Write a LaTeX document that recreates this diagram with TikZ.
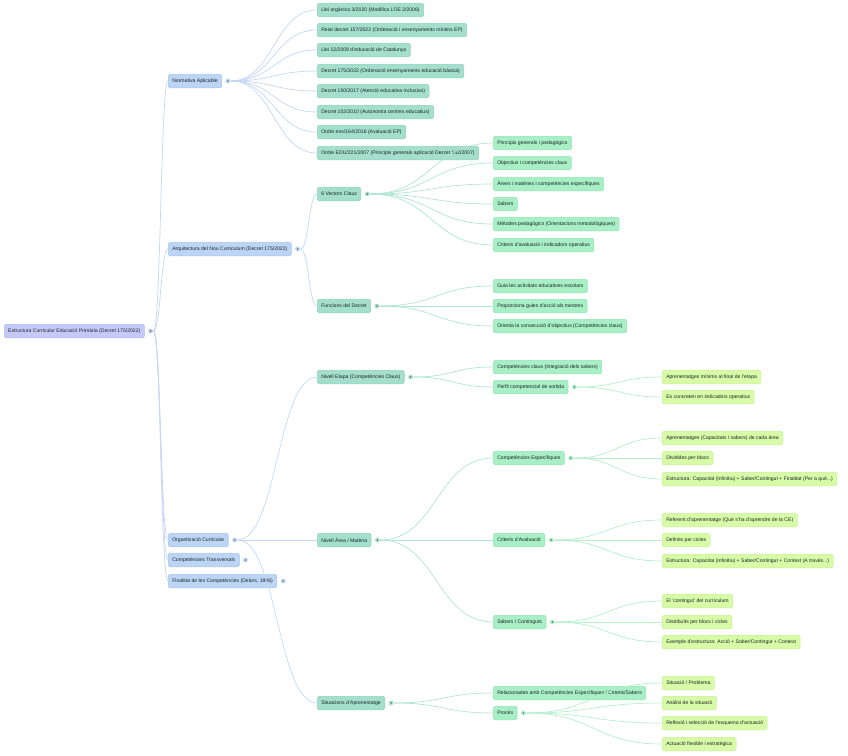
\documentclass[tikz,border=0pt]{standalone}
\usepackage{fontspec}
\setmainfont{Liberation Sans}
\usetikzlibrary{calc}
\definecolor{c0}{HTML}{C5C9F7}\definecolor{c0d}{HTML}{B2B8F0}
\definecolor{c1}{HTML}{BCD5F5}\definecolor{c1d}{HTML}{A9C6EF}
\definecolor{c2}{HTML}{A4DFCC}\definecolor{c2d}{HTML}{90D4BE}
\definecolor{c3}{HTML}{A8EFC5}\definecolor{c3d}{HTML}{92E6B4}
\definecolor{c4}{HTML}{D8FBA8}\definecolor{c4d}{HTML}{C6F290}
\definecolor{e1}{HTML}{C6D7F6}
\definecolor{e2}{HTML}{B0E6D4}
\definecolor{e3}{HTML}{B6F0CB}
\definecolor{tx}{HTML}{1A2424}
\tikzset{
  box/.style={rounded corners=1.6pt, inner xsep=4pt, inner ysep=0pt, minimum height=13.5pt,
    anchor=west, font=\fontsize{5.1}{6}\selectfont, text=tx, line width=0.5pt},
  lv0/.style={box, fill=c0, draw=c0d},
  lv1/.style={box, fill=c1, draw=c1d},
  lv2/.style={box, fill=c2, draw=c2d},
  lv3/.style={box, fill=c3, draw=c3d},
  lv4/.style={box, fill=c4, draw=c4d},
  knob/.style={circle, inner sep=0pt, minimum size=5.5pt, draw=white, line width=0.4pt},
  link/.style={line width=0.7pt},
}
\newcommand\mkknob[2]{%
  \node[knob, fill=#2] (k#1) at ($(#1.east)+(6,0)$) {};
  \draw[line width=0.35pt, black!65] ($(k#1)+(0.6,-0.9)$) -- ($(k#1)+(-0.5,0)$) -- ($(k#1)+(0.6,0.9)$);}
\newcommand\conn[3]{%
  \draw[link, #3] let \p1=(k#1.east), \p2=(#2.west), \n1={(\x2-\x1)/2} in
    (\p1) .. controls +(\n1,0) and +(-\n1,0) .. (\p2);}
\begin{document}
\begin{tikzpicture}[x=1pt,y=-1pt]
\useasboundingbox[fill=white] (0,0) rectangle (848,755);
% root
\node[lv0] (root) at (4,331) {Estructura Curricular Educació Primària (Decret 175/2022)};
% level 1
\node[lv1] (nA) at (168,81) {Normativa Aplicable};
\node[lv1] (nB) at (168,249) {Arquitectura del Nou Curriculum (Decret 175/2022)};
\node[lv1] (nC) at (168,540) {Organització Curricular};
\node[lv1] (nD) at (168,560) {Competències Transversals};
\node[lv1] (nE) at (168,581) {Finalitat de les Competències (Delors, 1996)};
% normativa
\node[lv2] (a1) at (317,10) {Llei orgànica 3/2020 (Modifica LOE 2/2006)};
\node[lv2] (a2) at (317,30) {Reial decret 157/2022 (Ordenació i ensenyaments mínims EP)};
\node[lv2] (a3) at (317,50) {Llei 12/2009 d'educació de Catalunya};
\node[lv2] (a4) at (317,71) {Decret 175/2022 (Ordenació ensenyaments educació bàsica)};
\node[lv2] (a5) at (317,91) {Decret 150/2017 (Atenció educativa inclusiva)};
\node[lv2] (a6) at (317,112) {Decret 102/2010 (Autonomia centres educatius)};
\node[lv2] (a7) at (317,132) {Ordre ens/164/2016 (Avaluació EP)};
\node[lv2] (a8) at (317,153) {Ordre EDU/221/2007 (Principis generals aplicació Decret 142/2007)};
% arquitectura
\node[lv2] (v6) at (317,194) {6 Vectors Claus};
\node[lv2] (fd) at (317,306) {Funcions del Decret};
\node[lv3] (v1) at (493,143) {Principis generals i pedagògics};
\node[lv3] (v2) at (493,163) {Objectius i competències claus};
\node[lv3] (v3) at (493,184) {Àrees i matèries i competències específiques};
\node[lv3] (v4) at (493,204) {Sabers};
\node[lv3] (v5) at (493,224) {Mètodes pedagògics (Orientacions metodològiques)};
\node[lv3] (v7) at (493,245) {Criteris d'avaluació i indicadors operatius};
\node[lv3] (f1) at (493,286) {Guia les activitats educatives escolars};
\node[lv3] (f2) at (493,306) {Proporciona guies d'acció als mestres};
\node[lv3] (f3) at (493,326) {Orienta la consecució d'objectius (Competències claus)};
% organitzacio
\node[lv2] (ne) at (317,377) {Nivell Etapa (Competències Claus)};
\node[lv2] (na) at (317,540) {Nivell Àrea / Matèria};
\node[lv2] (sa) at (317,703) {Situacions d'Aprenentatge};
\node[lv3] (ne1) at (493,367) {Competències claus (Integració dels sabers)};
\node[lv3] (pf) at (493,387) {Perfil competencial de sortida};
\node[lv4] (pf1) at (662,377) {Aprenentatges mínims al final de l'etapa};
\node[lv4] (pf2) at (662,397) {Es concreten en indicadors operatius};
\node[lv3] (ce) at (493,458) {Competències Específiques};
\node[lv3] (cr) at (493,540) {Criteris d'Avaluació};
\node[lv3] (sb) at (493,622) {Sabers / Continguts};
\node[lv4] (ce1) at (662,438) {Aprenentatges (Capacitats i sabers) de cada àrea};
\node[lv4] (ce2) at (662,458) {Dividides per blocs};
\node[lv4] (ce3) at (662,479) {Estructura: Capacitat (Infinitiu) + Saber/Contingut + Finalitat (Per a què...)};
\node[lv4] (cr1) at (662,520) {Referent d'aprenentatge (Què s'ha d'aprendre de la CE)};
\node[lv4] (cr2) at (662,540) {Definits per cicles};
\node[lv4] (cr3) at (662,561) {Estructura: Capacitat (Infinitiu) + Saber/Contingut + Context (A través...)};
\node[lv4] (sb1) at (662,601) {El 'contingut' del currículum};
\node[lv4] (sb2) at (662,622) {Distribuïts per blocs i cicles};
\node[lv4] (sb3) at (662,642) {Exemple d'estructura: Acció + Saber/Contingut + Context};
\node[lv3] (sa1) at (493,693) {Relacionades amb Competències Específiques i Criteris/Sabers};
\node[lv3] (pr) at (493,713) {Procés};
\node[lv4] (pr1) at (662,683) {Situació / Problema};
\node[lv4] (pr2) at (662,703) {Anàlisi de la situació};
\node[lv4] (pr3) at (662,723) {Reflexió i selecció de l'esquema d'actuació};
\node[lv4] (pr4) at (662,744) {Actuació flexible i estratègica};
% knobs
\mkknob{root}{c0}
\mkknob{nA}{c1}\mkknob{nB}{c1}\mkknob{nC}{c1}\mkknob{nD}{c1}\mkknob{nE}{c1}
\mkknob{v6}{c2}\mkknob{fd}{c2}\mkknob{ne}{c2}\mkknob{na}{c2}\mkknob{sa}{c2}
\mkknob{pf}{c3}\mkknob{ce}{c3}\mkknob{cr}{c3}\mkknob{sb}{c3}\mkknob{pr}{c3}
% connectors
\foreach \c in {nA,nB,nC,nD,nE} {\conn{root}{\c}{e1}}
\foreach \c in {a1,a2,a3,a4,a5,a6,a7,a8} {\conn{nA}{\c}{e1}}
\foreach \c in {v6,fd} {\conn{nB}{\c}{e1}}
\foreach \c in {ne,na,sa} {\conn{nC}{\c}{e1}}
\foreach \c in {v1,v2,v3,v4,v5,v7} {\conn{v6}{\c}{e2}}
\foreach \c in {f1,f2,f3} {\conn{fd}{\c}{e2}}
\foreach \c in {ne1,pf} {\conn{ne}{\c}{e2}}
\foreach \c in {ce,cr,sb} {\conn{na}{\c}{e2}}
\foreach \c in {sa1,pr} {\conn{sa}{\c}{e2}}
\foreach \c in {pf1,pf2} {\conn{pf}{\c}{e3}}
\foreach \c in {ce1,ce2,ce3} {\conn{ce}{\c}{e3}}
\foreach \c in {cr1,cr2,cr3} {\conn{cr}{\c}{e3}}
\foreach \c in {sb1,sb2,sb3} {\conn{sb}{\c}{e3}}
\foreach \c in {pr1,pr2,pr3,pr4} {\conn{pr}{\c}{e3}}
\end{tikzpicture}
\end{document}
